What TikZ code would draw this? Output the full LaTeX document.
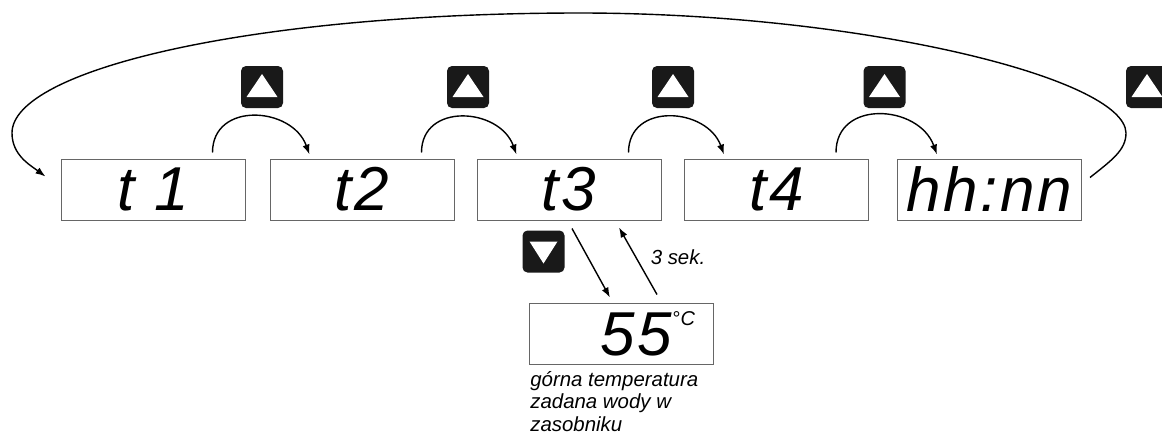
\documentclass[tikz,border=0pt]{standalone}
\usepackage{fontspec}
\setmainfont{Liberation Sans}
\newfontfamily\segfont{Liberation Sans}[LetterSpace=4.0]
\usetikzlibrary{arrows.meta,calc}

\begin{document}
\begin{tikzpicture}[
  x=0.5pt, y=-0.5pt,
  disp/.style={draw=black!60, line width=0.5pt, minimum width=92pt, minimum height=30.5pt, inner sep=0pt, font=\segfont\itshape\fontsize{31}{31}\selectfont},
  btn/.style={fill=black!90, rounded corners=2.5pt, minimum size=21pt, inner sep=0pt},
  rel/.style={-{Latex[length=5pt,width=3.6pt]}, line width=0.7pt},
  note/.style={font=\itshape\fontsize{10.2}{11.2}\selectfont, inner sep=0pt, align=left},
]
\useasboundingbox (0,0) rectangle (1162,435);

% displays
\node[disp] (t1) at (153,189.5) {t 1};
\node[disp] (t2) at (362,189.5) {t2};
\node[disp] (t3) at (569,189.5) {t3};
\node[disp] (t4) at (776.5,189.5) {t4};
\node[disp] (hh) at (989.5,189.5) {hh:nn};
\node[disp, text width=74pt, align=right] (tz) at (621,333.5) {55\raisebox{15pt}{\fontsize{10}{10}\selectfont °C}};

% up buttons
\foreach \i/\x in {1/262,2/468,3/673,4/884.5,5/1147}{
  \node[btn] (u\i) at (\x,87) {};
  \fill[white] ($(u\i)+(-15.5,10)$) -- ($(u\i)+(15.5,10)$) -- ($(u\i)+(0,-13)$) -- cycle;
}
% down button
\node[btn] (d1) at (543.5,251.5) {};
\fill[white] ($(d1)+(-14,-10)$) -- ($(d1)+(14,-10)$) -- ($(d1)+(0,12)$) -- cycle;

% steps between displays
\foreach \a/\b in {t1/t2,t2/t3,t3/t4,t4/hh}
  \draw[rel] ([shift={(-33,-6)}]\a.north east) to[out=90,in=110,looseness=1.35] ([shift={(40,-4)}]\b.north west);

% back to the first display
\coordinate (top) at (580,13);
\draw[rel] ([shift={(8,-12)}]hh.east) .. controls (1112,160) and (1126,150) .. (1126,133)
  .. controls (1125,78) and (860,13) .. (top)
  .. controls (250,13) and (12,70) .. (12,133)
  .. controls (12,155) and (30,165) .. ([shift={(-15,-13)}]t1.west);

% set temperature
\draw[rel] ([shift={(3,8)}]t3.south) -- ([shift={(-11,-5)}]tz.north);
\draw[rel] ([shift={(36,-8)}]tz.north) -- ([shift={(50,7)}]t3.south);
\node[note] (sek) at (678,257) {3 sek.};
\node[note, anchor=north west] (opis) at (530,371) {górna temperatura\\zadana wody w\\zasobniku};

\end{tikzpicture}
\end{document}
